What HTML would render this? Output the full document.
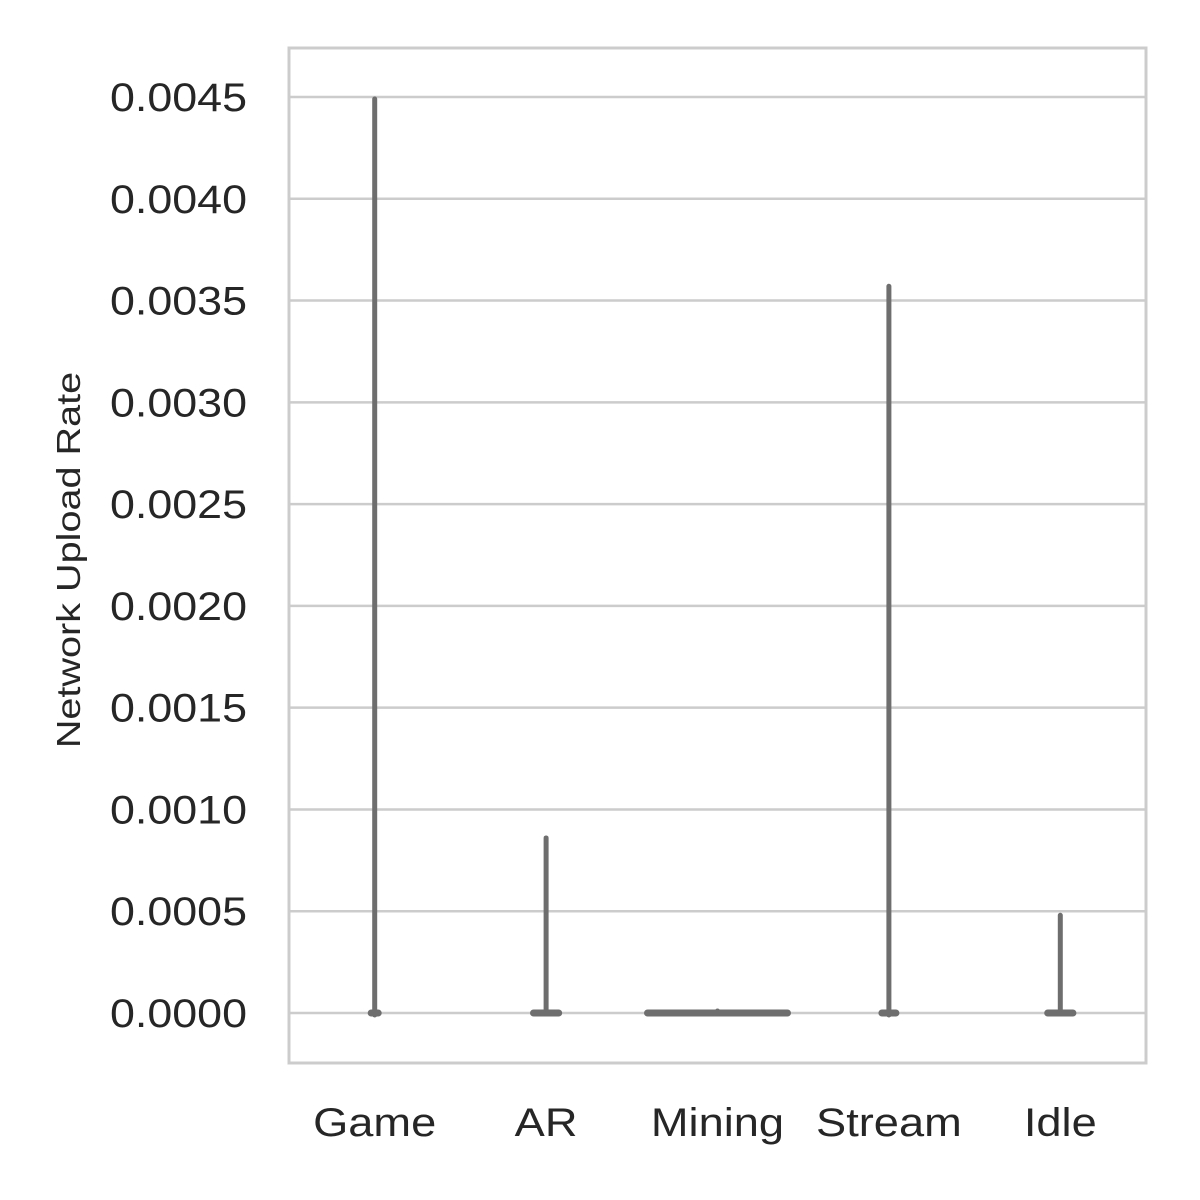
<!DOCTYPE html>
<html><head><meta charset="utf-8"><style>
body{margin:0;background:#fff}
svg{display:block;font-family:"Liberation Sans",sans-serif}
</style></head><body>
<svg id="chart" width="1200" height="1200">
<rect x="0" y="0" width="1200" height="1200" fill="#fff"/>
<g id="grid"></g>
<rect x="289" y="48" width="857" height="1015" fill="none" stroke="#cccccc" stroke-width="3"/>
<g id="marks"></g>
<g id="labels"></g>
<text id="ytitle" x="80" y="560" font-size="33" fill="#262626" text-anchor="middle" transform="rotate(-90 80 560)">Network Upload Rate</text>
</svg>
<script>
const categories=["Game","AR","Mining","Stream","Idle"];
const maxValues=[0.00449,0.00086,0.00001,0.00357,0.00048];
const minValues=[-0.00001,0,0,-0.00001,0];
const baseDensity=[0.05,0.18,1.0,0.1,0.18];
const yTicks=[0,0.0005,0.001,0.0015,0.002,0.0025,0.003,0.0035,0.004,0.0045];
const yTickLabels=["0.0000","0.0005","0.0010","0.0015","0.0020","0.0025","0.0030","0.0035","0.0040","0.0045"];
const NS="http://www.w3.org/2000/svg";
const x0=289,x1=1146;
function yScale(v){return 1013-(v/0.0045)*(1013-97);}
function xScale(i){return x0+(x1-x0)/categories.length*(i+0.5);}
const grid=document.getElementById('grid'),marks=document.getElementById('marks'),labels=document.getElementById('labels');
function mk(tag,attrs,parent){const e=document.createElementNS(NS,tag);for(const k in attrs)e.setAttribute(k,attrs[k]);parent.appendChild(e);return e;}
function stretch(t,f){const w=t.getComputedTextLength();t.setAttribute('textLength',w*f);t.setAttribute('lengthAdjust','spacingAndGlyphs');}
yTicks.forEach((t,i)=>{
  const y=yScale(t);
  const l=mk('line',{x1:x0,x2:x1,y1:y,y2:y,stroke:'#cccccc','stroke-width':2.5},grid);
  
  
  const tx=mk('text',{x:247,y:y+14,'font-size':40,fill:'#262626','text-anchor':'end'},labels);
  tx.textContent=yTickLabels[i];
  
  
  stretch(tx,1.12);
});
categories.forEach((c,i)=>{
  const cx=xScale(i);
  const g=mk('g',{},marks);
  
  
  mk('line',{x1:cx,x2:cx,y1:yScale(maxValues[i]),y2:yScale(minValues[i]),stroke:'#6e6e6e','stroke-width':5,'stroke-linecap':'round'},g);
  const hw=baseDensity[i]*70;
  mk('line',{x1:cx-hw,x2:cx+hw,y1:yScale(0),y2:yScale(0),stroke:'#6e6e6e','stroke-width':7,'stroke-linecap':'round'},g);
  const tx=mk('text',{x:cx,y:1136,'font-size':40,fill:'#262626','text-anchor':'middle'},labels);
  tx.textContent=c;
  
  
  stretch(tx,1.13);
});
stretch(document.getElementById('ytitle'),1.2);
</script>
</body></html>
